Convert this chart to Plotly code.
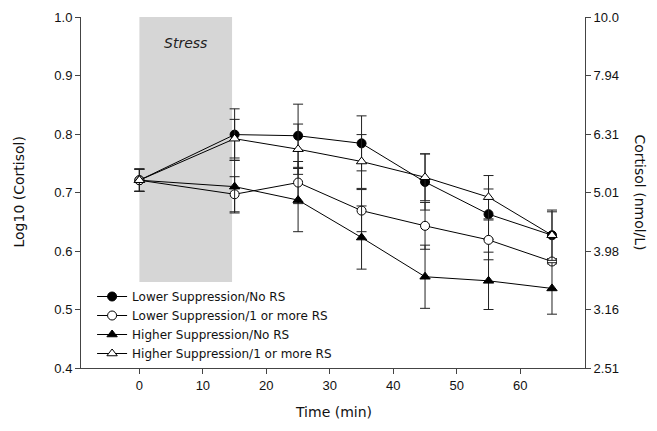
import plotly.graph_objects as go

times = [0, 15, 25, 35, 45, 55, 65]

series_names = [
    "Lower Suppression/No RS",
    "Lower Suppression/1 or more RS",
    "Higher Suppression/No RS",
    "Higher Suppression/1 or more RS",
]

ls_no_rs = [0.721, 0.799, 0.797, 0.784, 0.718, 0.663, 0.627]
ls_no_rs_err = [0.019, 0.044, 0.054, 0.047, 0.048, 0.043, 0.040]

ls_rs = [0.721, 0.697, 0.717, 0.669, 0.643, 0.619, 0.582]
ls_rs_err = [0.019, 0.030, 0.036, 0.036, 0.040, 0.034, 0.004]

hs_no_rs = [0.721, 0.710, 0.687, 0.623, 0.556, 0.549, 0.536]
hs_no_rs_err = [0.019, 0.045, 0.054, 0.054, 0.054, 0.049, 0.044]

hs_rs = [0.721, 0.792, 0.774, 0.753, 0.726, 0.692, 0.627]
hs_rs_err = [0.019, 0.033, 0.043, 0.046, 0.040, 0.037, 0.043]

left_ticks = [0.4, 0.5, 0.6, 0.7, 0.8, 0.9, 1.0]
left_tick_text = ["0.4", "0.5", "0.6", "0.7", "0.8", "0.9", "1.0"]
right_tick_text = ["2.51", "3.16", "3.98", "5.01", "6.31", "7.94", "10.0"]
x_ticks = [0, 10, 20, 30, 40, 50, 60]

stress_start, stress_end = 0, 14.6

TITLE_FONT = "DejaVu Sans"
TICK_FONT = "Liberation Sans, Arial"

fig = go.Figure()

styles = [
    dict(symbol="circle", color="black", size=9),
    dict(symbol="circle", color="white", size=9),
    dict(symbol="triangle-up", color="black", size=9),
    dict(symbol="triangle-up", color="white", size=9),
]
data = [(ls_no_rs, ls_no_rs_err), (ls_rs, ls_rs_err), (hs_no_rs, hs_no_rs_err), (hs_rs, hs_rs_err)]

for name, (vals, errs), st in zip(series_names, data, styles):
    fig.add_trace(go.Scatter(
        x=times, y=vals, name=name, mode="lines+markers",
        line=dict(color="black", width=1),
        marker=dict(symbol=st["symbol"], color=st["color"], size=st["size"],
                    line=dict(color="black", width=1)),
        error_y=dict(type="data", array=errs, visible=True, color="#222",
                     thickness=1, width=5),
    ))

# dummy trace for the right axis
fig.add_trace(go.Scatter(x=[None], y=[None], yaxis="y2", showlegend=False))

fig.add_shape(type="rect", xref="x", yref="paper", x0=stress_start, x1=stress_end,
              y0=0, y1=1, fillcolor="#d6d6d6", line=dict(width=0), layer="below")

fig.add_annotation(x=7.2, y=0.955, xref="x", yref="y", text="<i>Stress</i>",
                   showarrow=False, font=dict(family=TITLE_FONT, size=14, color="#222"))

title_font = dict(family=TITLE_FONT, size=14, color="#111")
fig.add_annotation(x=1.0, xref="paper", xanchor="center", xshift=55, y=0.5, yref="paper",
                   text="Cortisol (nmol/L)", textangle=90, showarrow=False, font=title_font)
fig.add_annotation(x=0.0, xref="paper", xanchor="center", xshift=-63, y=0.5, yref="paper",
                   text="Log10 (Cortisol)", textangle=-90, showarrow=False, font=title_font)
fig.add_annotation(x=0.5, xref="paper", yanchor="middle", y=0.0, yref="paper", yshift=-44,
                   text="Time (min)", showarrow=False, font=title_font)

axis_common = dict(showgrid=False, zeroline=False, showline=True, linecolor="#444",
                   linewidth=1, ticks="outside", ticklen=5, tickcolor="#444",
                   automargin=False,
                   tickfont=dict(family=TICK_FONT, size=13, color="#111"))

fig.update_layout(
    width=649, height=423,
    margin=dict(l=73, r=72, t=9, b=63),
    paper_bgcolor="white", plot_bgcolor="white",
    showlegend=True,
    legend=dict(x=0.022, y=0.245, xanchor="left", yanchor="top",
                bgcolor="white", borderwidth=0,
                font=dict(family=TITLE_FONT, size=12, color="#111"),
                tracegroupgap=0),
    xaxis=dict(range=[-9.2, 70.2], tickvals=x_ticks, **axis_common),
    yaxis=dict(range=[0.4, 1.0], tickvals=left_ticks, ticktext=left_tick_text, **axis_common),
    yaxis2=dict(range=[0.4, 1.0], overlaying="y", side="right", anchor="x",
                tickvals=left_ticks, ticktext=right_tick_text, **axis_common),
)

fig.write_html("out.html")
